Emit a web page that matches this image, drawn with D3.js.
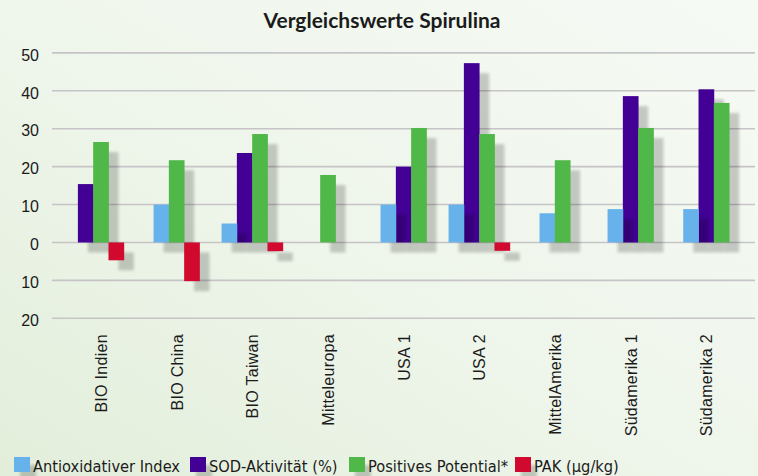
<!DOCTYPE html>
<html>
<head>
<meta charset="utf-8">
<script src="https://cdn.jsdelivr.net/npm/d3@7"></script>
<style>
  html, body { margin: 0; padding: 0; }
  body { width: 758px; height: 476px; overflow: hidden; }
  text { fill: #1b1b1b; }
</style>
</head>
<body>
<script>
// Chart data
var categories = ['BIO Indien', 'BIO China', 'BIO Taiwan', 'Mitteleuropa', 'USA 1', 'USA 2', 'MittelAmerika', 'Südamerika 1', 'Südamerika 2'];
var seriesNames = ['Antioxidativer Index', 'SOD-Aktivität (%)', 'Positives Potential*', 'PAK (µg/kg)'];
var antioxidativ = [null, 10, 5, null, 10, 10, 7.7, 8.8, 8.8];
var sodAktivitaet = [15.4, null, 23.6, null, 20, 47.3, null, 38.6, 40.4];
var positivesPotential = [26.5, 21.7, 28.6, 17.8, 30.2, 28.6, 21.7, 30.2, 36.8];
var pak = [-4.7, -10.2, -2.3, null, null, -2.2, null, null, null];
var yTicks = [-20, -10, 0, 10, 20, 30, 40, 50];
var colors = ['#67b2ea', '#420094', '#4fb848', '#d2092e'];

var seriesValues = [antioxidativ, sodAktivitaet, positivesPotential, pak];

var width = 758, height = 476;

var svg = d3.select(document.body).append('svg')
  .attr('width', width)
  .attr('height', height);

var defs = svg.append('defs');

// soft background gradient
var grad = defs.append('linearGradient')
  .attr('id', 'bg')
  .attr('x1', '100%').attr('y1', '0%')
  .attr('x2', '0%').attr('y2', '100%');
grad.append('stop').attr('offset', '0%').attr('stop-color', '#f6faf5');
grad.append('stop').attr('offset', '55%').attr('stop-color', '#eef5ea');
grad.append('stop').attr('offset', '100%').attr('stop-color', '#e2eeda');

// blurred drop shadow
defs.append('filter')
  .attr('id', 'blur')
  .attr('x', '-50%').attr('y', '-50%')
  .attr('width', '200%').attr('height', '200%')
  .append('feGaussianBlur')
  .attr('stdDeviation', 1.6);

svg.append('rect')
  .attr('width', width)
  .attr('height', height)
  .attr('fill', 'url(#bg)');

// Scales
var x = d3.scaleBand()
  .domain(categories)
  .range([63, 744]);

var y = d3.scaleLinear()
  .domain([-20, 50])
  .range([318.3, 52.9]);

var barW = 15.3;

// Gridlines
svg.append('g')
  .selectAll('line')
  .data(yTicks)
  .enter().append('line')
  .attr('x1', 52)
  .attr('x2', 755)
  .attr('y1', function(d) { return y(d); })
  .attr('y2', function(d) { return y(d); })
  .attr('stroke', '#c6c4c7')
  .attr('stroke-width', 1.6);

// Y axis (labels only, negative values shown without sign)
var yAxis = svg.append('g')
  .attr('transform', 'translate(39,0)')
  .call(d3.axisLeft(y).tickValues(yTicks).tickSize(0).tickPadding(0)
    .tickFormat(function(d) { return Math.abs(d); }));
yAxis.select('.domain').remove();
yAxis.selectAll('text')
  .attr('dy', '0.45em')
  .style('font-family', '"Liberation Sans", Arial, sans-serif')
  .style('font-size', '16px')
  .style('fill', '#1b1b1b');

// Bars: the present series in each category are packed and centered
var bars = [];
categories.forEach(function(cat, i) {
  var present = [];
  seriesValues.forEach(function(vals, s) { if (vals[i] != null) present.push(s); });
  var inner = d3.scaleBand()
    .domain(present)
    .range([-present.length * barW / 2, present.length * barW / 2]);
  present.forEach(function(s) {
    bars.push({cat: cat, s: s, v: seriesValues[s][i], x: x(cat) + x.bandwidth() / 2 + inner(s)});
  });
});

// draw order: SOD first so the blue shadow falls on it
var drawOrder = [1, 0, 2, 3];
var gBars = svg.append('g');
drawOrder.forEach(function(s) {
  var sb = bars.filter(function(b) { return b.s === s; });
  gBars.append('g')
    .selectAll('rect')
    .data(sb)
    .enter().append('rect')
    .attr('x', function(d) { return d.x + 10; })
    .attr('y', function(d) { return Math.min(y(d.v), y(0)) + 10; })
    .attr('width', barW)
    .attr('height', function(d) { return Math.abs(y(d.v) - y(0)); })
    .attr('fill', '#000')
    .attr('opacity', 0.19)
    .attr('filter', 'url(#blur)');
  gBars.append('g')
    .selectAll('rect')
    .data(sb)
    .enter().append('rect')
    .attr('x', function(d) { return d.x; })
    .attr('y', function(d) { return Math.min(y(d.v), y(0)); })
    .attr('width', barW + 0.4)
    .attr('height', function(d) { return Math.abs(y(d.v) - y(0)); })
    .attr('fill', colors[s]);
});

// Category labels, rotated
svg.append('g')
  .selectAll('text')
  .data(categories)
  .enter().append('text')
  .attr('transform', function(d) { return 'translate(' + (x(d) + x.bandwidth() / 2 + 6) + ',334) rotate(-90)'; })
  .attr('text-anchor', 'end')
  .style('font-family', '"Liberation Sans", Arial, sans-serif')
  .style('font-size', '16px')
  .style('letter-spacing', '0.3px')
  .text(function(d) { return d; });

// Title
svg.append('text')
  .attr('x', 382)
  .attr('y', 28)
  .attr('text-anchor', 'middle')
  .style('font-family', 'Lato, sans-serif')
  .style('font-weight', 'bold')
  .style('font-size', '21px')
  .text('Vergleichswerte Spirulina');

// Legend
var legendX = [14, 190, 349, 515];
var legend = svg.append('g')
  .selectAll('g')
  .data(seriesNames)
  .enter().append('g')
  .attr('transform', function(d, i) { return 'translate(' + legendX[i] + ',457)'; });
legend.append('rect')
  .attr('x', 6).attr('y', 8)
  .attr('width', 16).attr('height', 15)
  .attr('fill', '#000')
  .attr('opacity', 0.19)
  .attr('filter', 'url(#blur)');
legend.append('rect')
  .attr('width', 16).attr('height', 15)
  .attr('fill', function(d, i) { return colors[i]; });
legend.append('text')
  .attr('x', 19)
  .attr('y', 15)
  .style('font-family', '"Liberation Sans Narrow", "DejaVu Sans Condensed", sans-serif')
  .style('font-size', '16.3px')
  .text(function(d) { return d; });
</script>
</body>
</html>
